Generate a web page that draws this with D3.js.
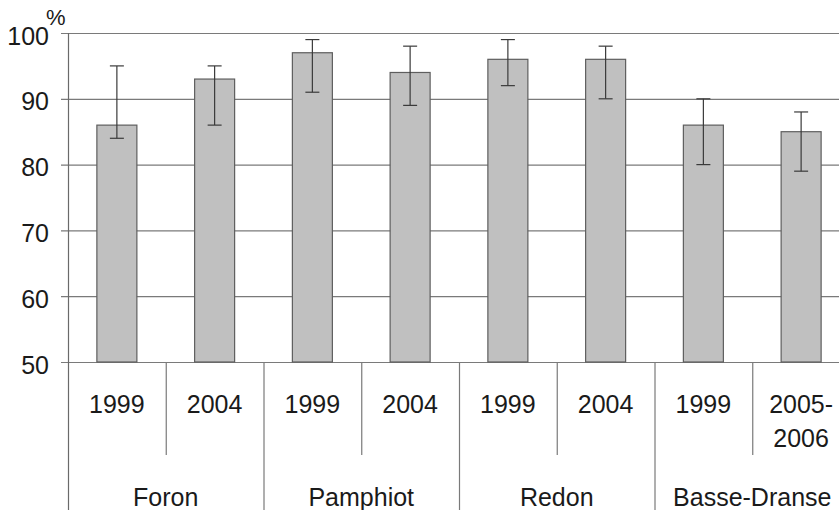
<!DOCTYPE html>
<html>
<head>
<meta charset="utf-8">
<script src="https://cdn.jsdelivr.net/npm/d3@7"></script>
<style>
  body { margin: 0; background: #fff; }
  text { font-family: "Liberation Sans", Arial, sans-serif; fill: #1a1a1a; }
</style>
</head>
<body>
<div id="chart"></div>
<script>
var groups = ["Foron", "Pamphiot", "Redon", "Basse-Dranse"],
    years = [["1999"], ["2004"], ["1999"], ["2004"], ["1999"], ["2004"], ["1999"], ["2005-", "2006"]],
    groupOf = [0, 0, 1, 1, 2, 2, 3, 3],
    values = [86, 93, 97, 94, 96, 96, 86, 85],
    errLow = [84, 86, 91, 89, 92, 90, 80, 79],
    errHigh = [95, 95, 99, 98, 99, 98, 90, 88],
    yTicks = [50, 60, 70, 80, 90, 100];

var width = 839,
    height = 510,
    svg, x, y;

function setup() {
    svg = d3
        .select("#chart")
        .append("svg")
        .attr("width", width)
        .attr("height", height);

    x = d3
        .scaleBand()
        .domain(d3.range(values.length))
        .range([68, 850])
        .padding(0);

    y = d3.scaleLinear().domain([50, 100]).range([362, 33]);

    drawGrid();
    drawBars();
    drawAxes();
}

function drawGrid() {
    svg
        .selectAll("line.grid")
        .data(yTicks)
        .enter()
        .append("line")
        .attr("class", "grid")
        .attr("x1", 61)
        .attr("x2", width)
        .attr("y1", (d) => y(d) + 0.5)
        .attr("y2", (d) => y(d) + 0.5)
        .attr("stroke", "#7a7a7a")
        .attr("stroke-width", 1.2);

    svg
        .selectAll("text.ytick")
        .data(yTicks)
        .enter()
        .append("text")
        .attr("class", "ytick")
        .attr("x", 49)
        .attr("y", (d) => y(d) + 11.5)
        .attr("text-anchor", "end")
        .style("font-size", "25px")
        .text((d) => d);

    svg
        .append("text")
        .attr("x", 46)
        .attr("y", 25)
        .style("font-size", "22px")
        .text("%");
}

function drawBars() {
    var bw = 40;
    var bars = svg
        .selectAll("g.bar")
        .data(values)
        .enter()
        .append("g")
        .attr("class", "bar");

    bars
        .append("rect")
        .attr("x", (d, i) => x(i) + x.bandwidth() / 2 - bw / 2)
        .attr("y", (d) => y(d))
        .attr("width", bw)
        .attr("height", (d) => y(50) - y(d))
        .attr("fill", "#c0c0c0")
        .attr("stroke", "#5e5e5e")
        .attr("stroke-width", 1.2);

    bars
        .append("line")
        .attr("x1", (d, i) => x(i) + x.bandwidth() / 2)
        .attr("x2", (d, i) => x(i) + x.bandwidth() / 2)
        .attr("y1", (d, i) => y(errLow[i]))
        .attr("y2", (d, i) => y(errHigh[i]))
        .attr("stroke", "#3a3a3a")
        .attr("stroke-width", 1.2);

    [errLow, errHigh].forEach(function (arr) {
        bars
            .append("line")
            .attr("x1", (d, i) => x(i) + x.bandwidth() / 2 - 7)
            .attr("x2", (d, i) => x(i) + x.bandwidth() / 2 + 7)
            .attr("y1", (d, i) => y(arr[i]))
            .attr("y2", (d, i) => y(arr[i]))
            .attr("stroke", "#3a3a3a")
            .attr("stroke-width", 1.2);
    });
}

function drawAxes() {
    // left axis line, runs down through the category table
    svg
        .append("line")
        .attr("x1", 68.5)
        .attr("x2", 68.5)
        .attr("y1", y(100))
        .attr("y2", height)
        .attr("stroke", "#6a6a6a")
        .attr("stroke-width", 1.2);

    // dividers between categories
    d3.range(1, values.length).forEach(function (i) {
        var isGroup = groupOf[i] !== groupOf[i - 1];
        svg
            .append("line")
            .attr("x1", x(i) + 0.5)
            .attr("x2", x(i) + 0.5)
            .attr("y1", y(50))
            .attr("y2", isGroup ? height : 455)
            .attr("stroke", "#7a7a7a")
            .attr("stroke-width", 1.2);
    });

    svg
        .selectAll("text.year")
        .data(years)
        .enter()
        .append("text")
        .attr("class", "year")
        .attr("text-anchor", "middle")
        .style("font-size", "25px")
        .each(function (lines, i) {
            var t = d3.select(this);
            lines.forEach(function (s, k) {
                t.append("tspan")
                    .attr("x", x(i) + x.bandwidth() / 2)
                    .attr("y", 413 + k * 34)
                    .text(s);
            });
        });

    svg
        .selectAll("text.group")
        .data(groups)
        .enter()
        .append("text")
        .attr("class", "group")
        .attr("text-anchor", "middle")
        .attr("x", function (d, g) {
            var idx = d3.range(values.length).filter((i) => groupOf[i] === g);
            return (x(idx[0]) + x(idx[idx.length - 1]) + x.bandwidth()) / 2;
        })
        .attr("y", 506)
        .style("font-size", "25px")
        .text((d) => d);
}

setup();
</script>
</body>
</html>
